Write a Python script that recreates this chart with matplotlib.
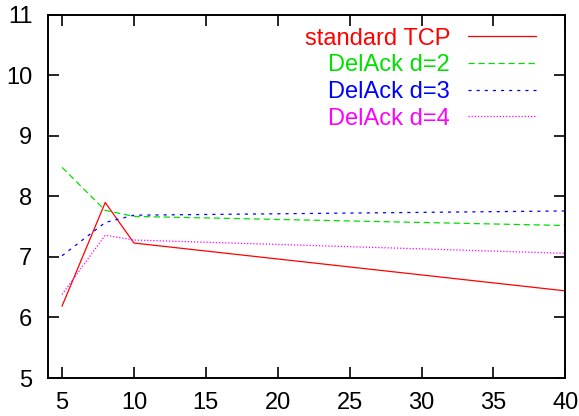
import matplotlib
matplotlib.use('Agg')
from matplotlib import pyplot

FONT_SIZE = 17
LINE_WIDTH = 0.9

x = [5, 8, 10, 40]
standard_tcp = [6.19, 7.90, 7.23, 6.44]
delack_d2 = [8.48, 7.77, 7.67, 7.52]
delack_d3 = [7.02, 7.57, 7.69, 7.76]
delack_d4 = [6.38, 7.36, 7.28, 7.06]

x_ticks = [5, 10, 15, 20, 25, 30, 35, 40]
y_ticks = [5, 6, 7, 8, 9, 10, 11]

pyplot.rcParams['font.family'] = ['Liberation Sans', 'DejaVu Sans']
pyplot.rcParams['font.size'] = FONT_SIZE

fig = pyplot.figure(figsize=(5.79, 4.16), dpi=100)
ax = fig.add_axes([0.0824, 0.0913, 0.894, 0.873])

ax.plot(x, standard_tcp, color='#ff0000', linewidth=LINE_WIDTH, label='standard TCP')
ax.plot(x, delack_d2, color='#00e000', linewidth=LINE_WIDTH, dashes=(5, 3), label='DelAck d=2')
ax.plot(x, delack_d3, color='#0000ff', linewidth=LINE_WIDTH, dashes=(2.5, 4), label='DelAck d=3')
ax.plot(x, delack_d4, color='#ff00ff', linewidth=LINE_WIDTH, dashes=(1, 1.5), label='DelAck d=4')

ax.set_xlim(4, 40)
ax.set_ylim(5, 11)
ax.set_xticks(x_ticks)
ax.set_yticks(y_ticks)
ax.tick_params(direction='in', length=8, width=1.2, top=True, right=True)
ax.tick_params(axis='x', pad=10)
ax.tick_params(axis='y', pad=11)
for spine in ax.spines.values():
	spine.set_linewidth(1.4)

leg = ax.legend(loc='upper right', frameon=False, markerfirst=False, handlelength=2.9,
	handletextpad=0.76, labelspacing=0.2, borderpad=0, borderaxespad=0,
	bbox_to_anchor=(0.944, 0.965))
for text, line in zip(leg.get_texts(), leg.get_lines()):
	text.set_color(line.get_color())
	text.set_ha('right')

fig.savefig('out.png', dpi=100)
